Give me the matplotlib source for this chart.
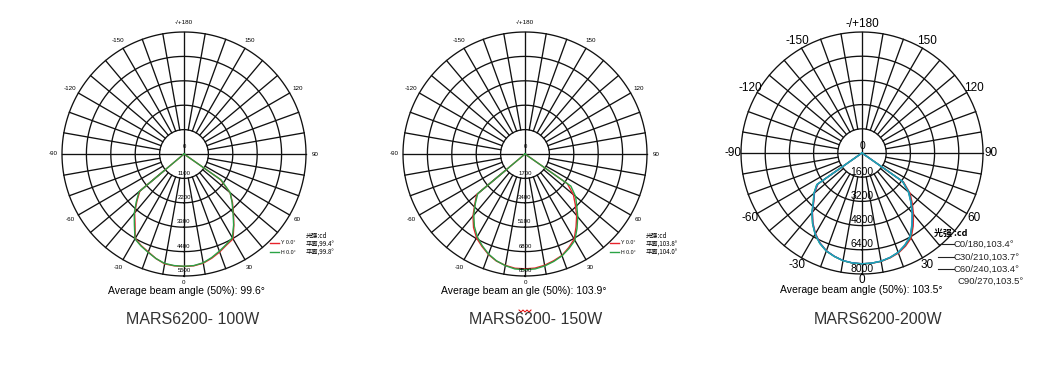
import numpy as np
import matplotlib.pyplot as plt
from matplotlib.lines import Line2D

W, H = 1057, 371

# polar angle (deg), 0 = straight down, +90 = right
gamma = [-90, -60, -55, -50, -45, -40, -35, -30, -25, -20, -15, -10, -5,
         0, 5, 10, 15, 20, 25, 30, 35, 40, 45, 50, 55, 60, 90]

# MARS6200-100W
rings_100 = [1100, 2200, 3300, 4400, 5500]
y_100 = [0, 0, 0, 2600, 3000, 3460, 3850, 4400, 4560, 4700, 4880, 5030, 5060,
         5070, 5060, 5000, 4860, 4700, 4530, 4420, 3920, 3470, 3090, 2710, 2000, 0, 0]
h_100 = [0, 0, 0, 2650, 3040, 3490, 3900, 4420, 4580, 4720, 4880, 5010, 5050,
         5060, 5050, 4980, 4830, 4660, 4500, 4360, 3900, 3440, 3060, 2720, 2050, 0, 0]

# MARS6200-150W
rings_150 = [1700, 3400, 5100, 6800, 8500]
y_150 = [0, 0, 0, 4400, 4950, 5640, 6250, 6750, 7100, 7450, 7720, 7880, 7990,
         8000, 7980, 7870, 7700, 7520, 7200, 6850, 6200, 5600, 4950, 4400, 3600, 0, 0]
h_150 = [0, 0, 0, 4300, 4900, 5550, 6150, 6650, 7050, 7420, 7700, 7900, 8040,
         8060, 8040, 7920, 7750, 7550, 7260, 6950, 6320, 5720, 5100, 4600, 3900, 0, 0]

# MARS6200-200W
rings_200 = [1600, 3200, 4800, 6400, 8000]
c0_200 = [0, 0, 3550, 4100, 4500, 5100, 5650, 6150, 6560, 6880, 7070, 7230, 7300,
          7330, 7320, 7280, 7180, 7040, 6800, 6500, 5900, 5300, 4700, 4150, 3350, 0, 0]
c30_200 = [0, 0, 3650, 4150, 4550, 5150, 5700, 6200, 6600, 6900, 7080, 7230, 7300,
           7330, 7310, 7270, 7160, 7000, 6740, 6420, 5800, 5200, 4600, 4050, 3300, 0, 0]
c60_200 = [0, 0, 3600, 4120, 4530, 5120, 5680, 6180, 6580, 6890, 7070, 7220, 7290,
           7320, 7310, 7260, 7150, 6990, 6720, 6380, 5780, 5180, 4580, 4030, 3280, 0, 0]
c90_200 = [0, 0, 3650, 4150, 4550, 5150, 5700, 6200, 6600, 6900, 7080, 7230, 7300,
           7330, 7310, 7260, 7150, 6990, 6700, 6360, 5750, 5150, 4550, 4000, 3250, 0, 0]

angle_labels = [(180, '-/+180'), (150, '150'), (-150, '-150'), (120, '120'), (-120, '-120'),
                (90, '90'), (-90, '-90'), (60, '60'), (-60, '-60'), (30, '30'), (-30, '-30'),
                (0, '0')]

FONT = ['Liberation Sans', 'DejaVu Sans']
CJK = ['Noto Sans CJK SC', 'DejaVu Sans']
GRID = '#111111'
RED = '#e8232b'
GREEN = '#2aa345'
BLUE = '#2a5bd0'
CYAN = '#1fa5b4'


def polar_chart(fig, cx, cy, R, rings, series, fs_ang, fs_ring, lab_r):
    ax = fig.add_axes([(cx - R) / W, 1 - (cy + R) / H, 2 * R / W, 2 * R / H],
                      projection='polar')
    ax.set_theta_zero_location('S')
    ax.set_theta_direction(1)
    rmax = rings[-1]
    ax.set_ylim(0, rmax)
    ax.axis('off')

    t = np.linspace(0, 2 * np.pi, 361)
    for r in rings:
        ax.plot(t, np.full_like(t, r), color=GRID, lw=0.95, clip_on=False, zorder=1)
    for a in range(0, 360, 10):
        r0 = 0 if a % 90 == 0 else rings[0]
        ax.plot([np.radians(a)] * 2, [r0, rmax], color=GRID, lw=0.95,
                clip_on=False, zorder=1)

    step = rings[1] - rings[0]
    ax.text(np.pi, 0.3 * step, '0', ha='center', va='center', fontsize=fs_ring,
            family=FONT, zorder=2)
    for r in rings:
        ax.text(0, r - 0.22 * step, str(r), ha='center', va='center',
                fontsize=fs_ring, family=FONT, zorder=4)
    for a, s in angle_labels:
        rr = lab_r if a != 0 else lab_r - 0.02
        ax.text(np.radians(a), rmax * rr, s, ha='center', va='center',
                fontsize=fs_ang, family=FONT)

    th = np.radians(gamma)
    for vals, col in series:
        ax.plot(th, vals, color=col, lw=1.0, zorder=3)
    return ax


fig = plt.figure(figsize=(W / 100, H / 100), dpi=100)
fig.patch.set_facecolor('white')

polar_chart(fig, 184, 154, 122, rings_100, [(y_100, RED), (h_100, GREEN)], 4.5, 4.3, 1.075)
polar_chart(fig, 525, 154, 122, rings_150, [(y_150, RED), (h_150, GREEN)], 4.5, 4.3, 1.075)
polar_chart(fig, 862, 153, 121, rings_200,
            [(c0_200, RED), (c30_200, GREEN), (c60_200, BLUE), (c90_200, CYAN)],
            8.5, 7.5, 1.07)


def fx(x):
    return x / W


def fy(y):
    return 1 - y / H


# legends of the two small charts
for x0, names in [(270, ['平面,99.4°', '平面,99.8°']), (610, ['平面,103.8°', '平面,104.0°'])]:
    for dy, col, lab in [(243, RED, 'Y 0.0°'), (252, GREEN, 'H 0.0°')]:
        fig.add_artist(Line2D([fx(x0), fx(x0 + 9)], [fy(dy)] * 2, color=col, lw=1.0))
        fig.text(fx(x0 + 11), fy(dy), lab, fontsize=3.8, va='center', family=FONT)
    fig.text(fx(x0 + 36), fy(236), '光强:cd', fontsize=4.5, va='center', family=CJK)
    fig.text(fx(x0 + 36), fy(244.5), names[0], fontsize=4.5, va='center', family=CJK)
    fig.text(fx(x0 + 36), fy(253), names[1], fontsize=4.5, va='center', family=CJK)

# legend of the 200W chart
fig.text(fx(934), fy(233), '光强 :cd', fontsize=6.5, va='center', family=CJK,
         fontweight='bold')
for yy, lab in [(244, 'C0/180,103.4°'), (257, 'C30/210,103.7°'), (269, 'C60/240,103.4°')]:
    fig.add_artist(Line2D([fx(938), fx(954)], [fy(yy)] * 2, color='#222', lw=0.8))
    fig.text(fx(954), fy(yy), lab, fontsize=6.8, va='center', family=FONT, color='#222')
fig.text(fx(958), fy(281), 'C90/270,103.5°', fontsize=6.8, va='center', family=FONT,
         color='#222')

# beam angle captions
for x, y, s in [(186, 291, 'Average beam angle (50%): 99.6°'),
                (524, 291, 'Average beam an gle (50%): 103.9°'),
                (861, 290, 'Average beam angle (50%): 103.5°')]:
    fig.text(fx(x), fy(y), s, ha='center', va='center', fontsize=7.5, family=FONT)

# spell-check squiggle under "an gle"
fig.add_artist(Line2D([fx(v) for v in [519, 521, 523, 525, 527, 529, 531]],
                      [fy(v) for v in [310, 312, 310, 312, 310, 312, 310]],
                      color='#e00000', lw=0.7))

# model names
for x, s in [(193, 'MARS6200- 100W'), (536, 'MARS6200- 150W'), (878, 'MARS6200-200W')]:
    fig.text(fx(x), fy(320), s, ha='center', va='center', fontsize=11.5,
             family=FONT, color='#333333')

fig.savefig('out.png', dpi=100)
